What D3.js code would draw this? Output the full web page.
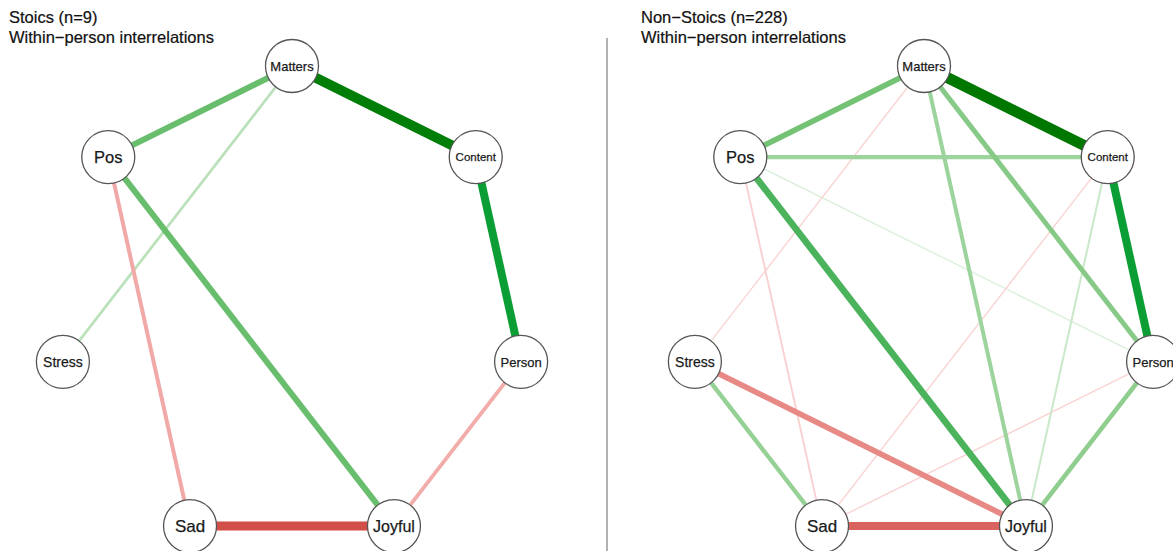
<!DOCTYPE html>
<html>
<head>
<meta charset="utf-8">
<script src="https://cdn.jsdelivr.net/npm/d3@7"></script>
<style>
  html, body { margin: 0; padding: 0; background: #fff; }
  svg { display: block; }
</style>
</head>
<body>
<svg id="chart" width="1173" height="551"></svg>
<script>
// ---- data ----
const nodes = ["Matters", "Content", "Person", "Joyful", "Sad", "Stress", "Pos"];
const panelTitles = ["Stoics (n=9)", "Non\u2212Stoics (n=228)"];
const subTitle = "Within\u2212person interrelations";

// edges: [from, to, weight]
const stoicsEdges = [
  ["Matters", "Content", 0.87],
  ["Content", "Person", 0.70],
  ["Matters", "Pos", 0.52],
  ["Pos", "Joyful", 0.52],
  ["Matters", "Stress", 0.24],
  ["Pos", "Sad", -0.35],
  ["Person", "Joyful", -0.33],
  ["Sad", "Joyful", -0.78]
];
const nonStoicsEdges = [
  ["Matters", "Content", 0.95],
  ["Content", "Person", 0.70],
  ["Matters", "Pos", 0.50],
  ["Pos", "Content", 0.35],
  ["Matters", "Person", 0.43],
  ["Matters", "Joyful", 0.35],
  ["Pos", "Joyful", 0.58],
  ["Pos", "Person", 0.12],
  ["Content", "Joyful", 0.18],
  ["Stress", "Sad", 0.38],
  ["Person", "Joyful", 0.40],
  ["Stress", "Joyful", -0.50],
  ["Sad", "Joyful", -0.68],
  ["Matters", "Stress", -0.13],
  ["Pos", "Sad", -0.16],
  ["Content", "Sad", -0.13],
  ["Sad", "Person", -0.13]
];

// ---- styles ----
const labelSize = { Matters: 13, Content: 11.5, Person: 13, Joyful: 16, Sad: 17, Stress: 14, Pos: 16.5 };
const font = "'Liberation Sans', Arial, Helvetica, sans-serif";
const nodeR = 26.5;

const posColor = d3.scaleLinear()
  .domain([0.05, 0.5, 0.72, 0.9])
  .range(["#eef7ee", "#74c274", "#009a2e", "#007800"]).clamp(true);
const negColor = d3.scaleLinear()
  .domain([0.05, 0.4, 0.8])
  .range(["#fce6e6", "#ef9f9c", "#d04a45"]).clamp(true);
const widthScale = d3.scaleLinear().domain([0, 1]).range([0, 11.5]);

const svg = d3.select("#chart");

// unit-circle heptagon layout
const angle = i => Math.PI / 2 - i * 2 * Math.PI / nodes.length;
const unit = {};
nodes.forEach((n, i) => { unit[n] = [Math.cos(angle(i)), Math.sin(angle(i))]; });

const yScale = d3.scaleLinear().domain([-1, 1]).range([550, 66]);

function drawPanel(cx, titleX, title, edges) {
  const xScale = d3.scaleLinear().domain([-1, 1]).range([cx - 235, cx + 235]);
  const g = svg.append("g");
  const pos = n => [xScale(unit[n][0]), yScale(unit[n][1])];

  const sorted = edges.slice().sort((a, b) => Math.abs(a[2]) - Math.abs(b[2]));
  g.append("g").selectAll("line").data(sorted).join("line")
    .attr("x1", d => pos(d[0])[0]).attr("y1", d => pos(d[0])[1])
    .attr("x2", d => pos(d[1])[0]).attr("y2", d => pos(d[1])[1])
    .attr("stroke", d => d[2] > 0 ? posColor(d[2]) : negColor(-d[2]))
    .attr("stroke-width", d => Math.max(1.3, widthScale(Math.abs(d[2]))));

  const ng = g.append("g").selectAll("g").data(nodes).join("g")
    .attr("transform", d => `translate(${pos(d)[0]},${pos(d)[1]})`);
  ng.append("circle").attr("r", nodeR)
    .attr("fill", "#fff").attr("stroke", "#555").attr("stroke-width", 1.3);
  ng.append("text")
    .attr("text-anchor", "middle").attr("dy", "0.36em")
    .attr("font-family", font).attr("font-size", d => labelSize[d])
    .attr("fill", "#1a1a1a").attr("stroke", "#1a1a1a").attr("stroke-width", 0.25)
    .text(d => d);

  g.append("text").attr("x", titleX).attr("y", 23)
    .attr("font-family", font).attr("font-size", 16.5).attr("fill", "#111")
    .attr("stroke", "#111").attr("stroke-width", 0.2).text(title);
  g.append("text").attr("x", titleX).attr("y", 43)
    .attr("font-family", font).attr("font-size", 16.5).attr("fill", "#111")
    .attr("stroke", "#111").attr("stroke-width", 0.2).text(subTitle);
}

drawPanel(292, 9, panelTitles[0], stoicsEdges);
drawPanel(924, 641, panelTitles[1], nonStoicsEdges);

svg.append("line").attr("x1", 607).attr("x2", 607).attr("y1", 38).attr("y2", 551)
  .attr("stroke", "#999").attr("stroke-width", 1.5);
</script>
</body>
</html>
